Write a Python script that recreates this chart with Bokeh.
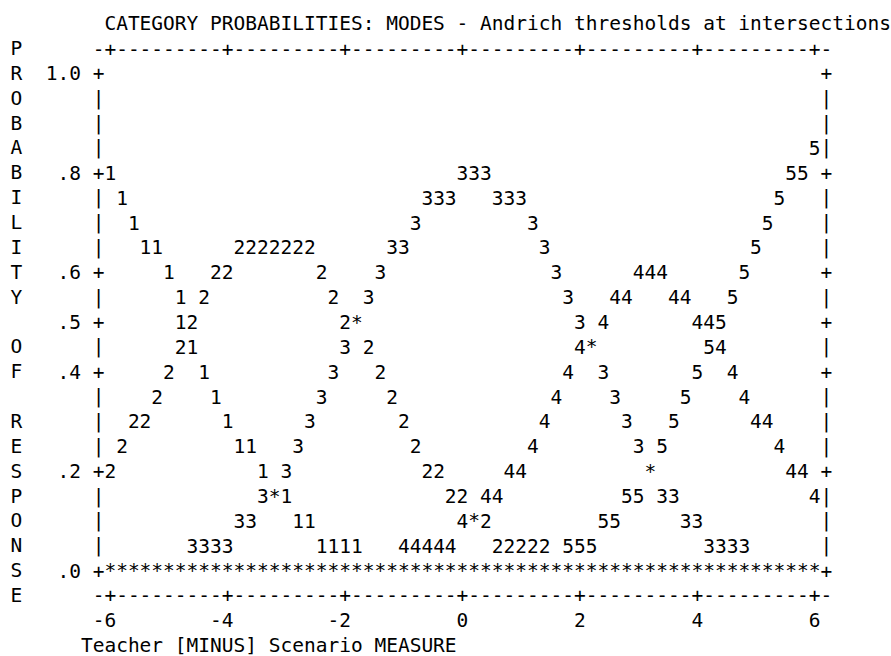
from bokeh.plotting import figure
from bokeh.models import Range1d, ColumnDataSource
from bokeh.core.properties import value
from bokeh.embed import file_html
from bokeh.resources import INLINE

# ---------------- data ----------------
title_text = "CATEGORY PROBABILITIES: MODES - Andrich thresholds at intersections"
y_axis_title = "PROBABILITY OF RESPONSE"
x_axis_title = "Teacher [MINUS] Scenario MEASURE"

x_ticks = [-6, -4, -2, 0, 2, 4, 6]
x_tick_labels = ["-6", "-4", "-2", "0", "2", "4", "6"]
y_ticks = [1.0, 0.8, 0.6, 0.5, 0.4, 0.2, 0.0]
y_tick_labels = ["1.0", ".8", ".6", ".5", ".4", ".2", ".0"]

categories = ["1", "2", "3", "4", "5"]

cat1_x = [-6.0, -5.8, -5.6, -5.4, -5.2, -5.0, -4.8, -4.8, -4.6, -4.4, -4.2, -4.0,
          -3.8, -3.6, -3.4, -3.2, -3.0, -2.8, -2.6, -2.4, -2.2, -2.0, -1.8]
cat1_p = [0.80, 0.75, 0.70, 0.65, 0.65, 0.60, 0.55, 0.50, 0.45, 0.40, 0.35, 0.30,
          0.25, 0.25, 0.20, 0.15, 0.15, 0.10, 0.10, 0.05, 0.05, 0.05, 0.05]

cat2_x = [-6.0, -5.8, -5.6, -5.4, -5.2, -5.0, -4.8, -4.6, -4.4, -4.2, -4.0,
          -3.8, -3.6, -3.4, -3.2, -3.0, -2.8, -2.6, -2.4, -2.2, -2.0, -1.8,
          -1.6, -1.4, -1.2, -1.0, -0.8, -0.6, -0.4, -0.2, 0.0, 0.2, 0.4,
          0.6, 0.8, 1.0, 1.2, 1.4]
cat2_p = [0.20, 0.25, 0.30, 0.30, 0.35, 0.40, 0.45, 0.50, 0.55, 0.60, 0.60,
          0.65, 0.65, 0.65, 0.65, 0.65, 0.65, 0.65, 0.60, 0.55, 0.50, 0.50,
          0.45, 0.40, 0.35, 0.30, 0.25, 0.20, 0.20, 0.15, 0.15, 0.10, 0.10,
          0.05, 0.05, 0.05, 0.05, 0.05]

cat3_x = [-4.6, -4.4, -4.2, -4.0, -3.8, -3.6, -3.4, -3.2, -3.0, -2.8, -2.6, -2.4,
          -2.2, -2.0, -1.8, -1.6, -1.4, -1.2, -1.0, -0.8, -0.6, -0.4, -0.2,
          0.0, 0.2, 0.4, 0.6, 0.8, 1.0, 1.2, 1.4, 1.6, 1.8, 2.0, 2.2, 2.4,
          2.6, 2.8, 3.0, 3.2, 3.4, 3.6, 3.8, 4.0, 4.2, 4.4, 4.6, 4.8]
cat3_p = [0.05, 0.05, 0.05, 0.05, 0.10, 0.10, 0.15, 0.15, 0.20, 0.25, 0.30, 0.35,
          0.40, 0.45, 0.50, 0.55, 0.60, 0.65, 0.65, 0.70, 0.75, 0.75, 0.75,
          0.80, 0.80, 0.80, 0.75, 0.75, 0.75, 0.70, 0.65, 0.60, 0.55, 0.50, 0.45, 0.40,
          0.35, 0.30, 0.25, 0.20, 0.15, 0.15, 0.10, 0.10, 0.05, 0.05, 0.05, 0.05]

cat4_x = [-1.0, -0.8, -0.6, -0.4, -0.2, 0.0, 0.2, 0.4, 0.6, 0.8, 1.0, 1.2, 1.4,
          1.6, 1.8, 2.0, 2.2, 2.4, 2.6, 2.8, 3.0, 3.2, 3.4, 3.6, 3.8, 4.0, 4.2,
          4.4, 4.6, 4.8, 5.0, 5.2, 5.4, 5.6, 5.8, 6.0]
cat4_p = [0.05, 0.05, 0.05, 0.05, 0.05, 0.10, 0.10, 0.15, 0.15, 0.20, 0.20, 0.25, 0.30,
          0.35, 0.40, 0.45, 0.45, 0.50, 0.55, 0.55, 0.60, 0.60, 0.60, 0.55, 0.55, 0.50, 0.50,
          0.45, 0.40, 0.35, 0.30, 0.30, 0.25, 0.20, 0.20, 0.15]

cat5_x = [1.8, 2.0, 2.2, 2.4, 2.6, 2.8, 3.0, 3.2, 3.4, 3.6, 3.8, 4.0, 4.2, 4.4,
          4.6, 4.8, 5.0, 5.2, 5.4, 5.6, 5.8, 6.0]
cat5_p = [0.05, 0.05, 0.05, 0.10, 0.10, 0.15, 0.15, 0.20, 0.25, 0.30, 0.35, 0.40, 0.45, 0.50,
          0.55, 0.60, 0.65, 0.70, 0.75, 0.80, 0.80, 0.85]

curves = {
    "1": (cat1_x, cat1_p),
    "2": (cat2_x, cat2_p),
    "3": (cat3_x, cat3_p),
    "4": (cat4_x, cat4_p),
    "5": (cat5_x, cat5_p),
}

# ---------------- layout constants ----------------
STEP = 0.2        # measure units per character column
ROW = 0.05        # probability per text row
FONT = value("DejaVu Sans Mono")
SIZE = "19.5px"

p = figure(width=891, height=656,
           x_range=Range1d(-7.870, 7.3085), y_range=Range1d(-0.17273, 1.14666),
           output_backend="svg", toolbar_location=None,
           x_axis_location=None, y_axis_location=None,
           min_border=0, min_border_left=0, min_border_right=0,
           min_border_top=0, min_border_bottom=0)
p.grid.visible = False
p.outline_line_color = None
p.background_fill_color = "white"
p.border_fill_color = "white"


def put(xs, ys, texts, align="center"):
    src = ColumnDataSource(dict(x=xs, y=ys, t=texts))
    p.text(x="x", y="y", text="t", source=src, text_font=FONT,
           text_font_size=SIZE, text_align=align, text_baseline="middle",
           text_color="black")


# ---------------- frame ----------------
x_lo = x_ticks[0] - STEP
x_hi = x_ticks[-1] + STEP
n_cols = int(round((x_hi - x_lo) / STEP)) + 1
cols = [x_lo + i * STEP for i in range(n_cols)]
tick_keys = {int(round(t / STEP)) for t in x_ticks}
ytick_keys = {int(round(t / ROW)) for t in y_ticks}

fx, fy, ft = [], [], []
# rulers above and below
for yrow in (y_ticks[0] + ROW, y_ticks[-1] - ROW):
    for cx in cols:
        fx.append(cx)
        fy.append(yrow)
        ft.append("+" if int(round(cx / STEP)) in tick_keys else "-")
# vertical sides
n_rows = int(round((y_ticks[0] - y_ticks[-1]) / ROW)) + 1
for j in range(n_rows):
    yv = y_ticks[-1] + j * ROW
    sym = "+" if int(round(yv / ROW)) in ytick_keys else "|"
    fx += [x_lo, x_hi]
    fy += [yv, yv]
    ft += [sym, sym]
# bottom line: all categories coincide at zero probability
for cx in cols[1:-1]:
    fx.append(cx)
    fy.append(y_ticks[-1])
    ft.append("*")
put(fx, fy, ft)

# ---------------- curves ----------------
cells = {}
for lab in categories:
    xs, ps = curves[lab]
    for xv, pv in zip(xs, ps):
        key = (int(round(xv / STEP)), int(round(pv / ROW)))
        cells.setdefault(key, [xv, pv, []])[2].append(lab)
cx_, cy_, ct_ = [], [], []
for key, (xv, pv, labs) in cells.items():
    cx_.append(xv)
    cy_.append(pv)
    ct_.append(labs[0] if len(labs) == 1 else "*")
put(cx_, cy_, ct_)

# ---------------- labels ----------------
# y tick labels (right-aligned, one blank column before the axis)
put([x_lo - 1.5 * STEP] * len(y_ticks), y_ticks, y_tick_labels, align="right")
# x tick labels (last digit under the tick)
put([t + STEP / 2 for t in x_ticks], [y_ticks[-1] - 2 * ROW] * len(x_ticks),
    x_tick_labels, align="right")
# x axis title
put([x_lo - 1.5 * STEP], [y_ticks[-1] - 3 * ROW], [x_axis_title], align="left")
# chart title
put([x_ticks[0] - STEP / 2], [y_ticks[0] + 2 * ROW], [title_text], align="left")
# vertical y title, one letter per row in the first column
put([x_lo - 7 * STEP] * len(y_axis_title),
    [y_ticks[0] + ROW - i * ROW for i in range(len(y_axis_title))],
    list(y_axis_title))

open("out.html", "w").write(file_html(p, INLINE))
